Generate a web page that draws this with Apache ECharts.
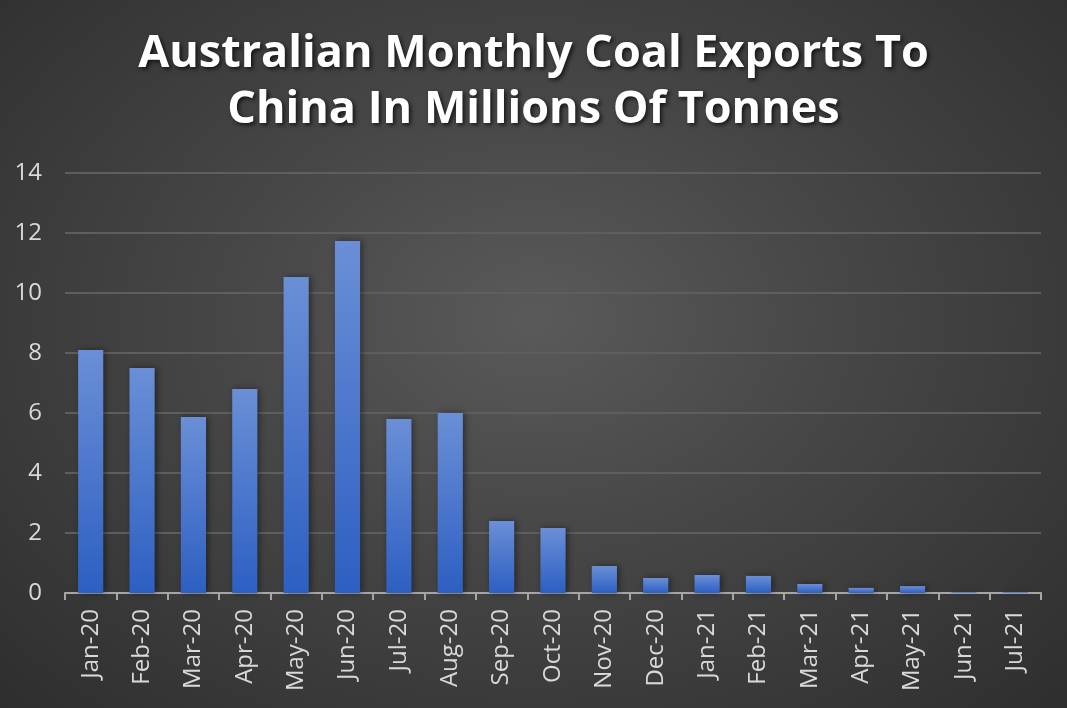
<!DOCTYPE html>
<html>
<head>
<meta charset="utf-8">
<script src="https://cdn.jsdelivr.net/npm/echarts@6/dist/echarts.min.js"></script>
<style>
html,body{margin:0;padding:0;width:1067px;height:708px;overflow:hidden;}
body{background: radial-gradient(ellipse at 50% 45%, #5a5a5a 0%, #474747 40%, #2e2e2e 100%);}
#chart{width:1067px;height:708px;}
</style>
</head>
<body>
<div id="chart"></div>
<script>
const categories = ["Jan-20","Feb-20","Mar-20","Apr-20","May-20","Jun-20","Jul-20","Aug-20","Sep-20","Oct-20","Nov-20","Dec-20","Jan-21","Feb-21","Mar-21","Apr-21","May-21","Jun-21","Jul-21"];
const exports = [8.1, 7.5, 5.87, 6.8, 10.53, 11.73, 5.8, 6.0, 2.4, 2.17, 0.9, 0.5, 0.6, 0.57, 0.3, 0.17, 0.23, 0.03, 0.03];
const yTicks = {min: 0, max: 14, interval: 2};
const titleText = "Australian Monthly Coal Exports To\nChina In Millions Of Tonnes";

const chart = echarts.init(document.getElementById('chart'), null, {renderer: 'canvas'});
chart.setOption({
  backgroundColor: 'transparent',
  animation: false,
  title: {
    text: titleText,
    left: 'center',
    top: 21,
    textStyle: {
      color: '#ffffff',
      fontFamily: 'Open Sans',
      fontWeight: 'bold',
      fontSize: 45,
      lineHeight: 56,
      textShadowColor: 'rgba(0,0,0,0.7)',
      textShadowBlur: 4,
      textShadowOffsetX: 2,
      textShadowOffsetY: 2
    }
  },
  grid: {left: 65, right: 26, top: 173, bottom: 115, containLabel: false},
  xAxis: {
    type: 'category',
    data: categories,
    axisLine: {show: true, lineStyle: {color: '#a6a6a6', width: 2}},
    axisTick: {show: true, length: 7, lineStyle: {color: '#a6a6a6', width: 2}},
    axisLabel: {
      rotate: 90,
      interval: 0,
      color: '#d9d9d9',
      fontFamily: 'Open Sans',
      fontSize: 24,
      margin: 16
    }
  },
  yAxis: {
    type: 'value',
    min: yTicks.min,
    max: yTicks.max,
    interval: yTicks.interval,
    axisLine: {show: false},
    axisTick: {show: false},
    splitLine: {lineStyle: {color: '#5e5e5e', width: 2}},
    axisLabel: {
      color: '#d9d9d9',
      fontFamily: 'Open Sans',
      fontSize: 24,
      margin: 23
    }
  },
  series: [{
    type: 'bar',
    data: exports,
    barCategoryGap: '51%',
    itemStyle: {
      color: new echarts.graphic.LinearGradient(0, 0, 0, 1, [
        {offset: 0, color: '#6a8fd6'},
        {offset: 1, color: '#2d5fc2'}
      ]),
      shadowColor: 'rgba(0,0,0,0.45)',
      shadowBlur: 6,
      shadowOffsetX: 2,
      shadowOffsetY: 0
    }
  }]
});
</script>
</body>
</html>
